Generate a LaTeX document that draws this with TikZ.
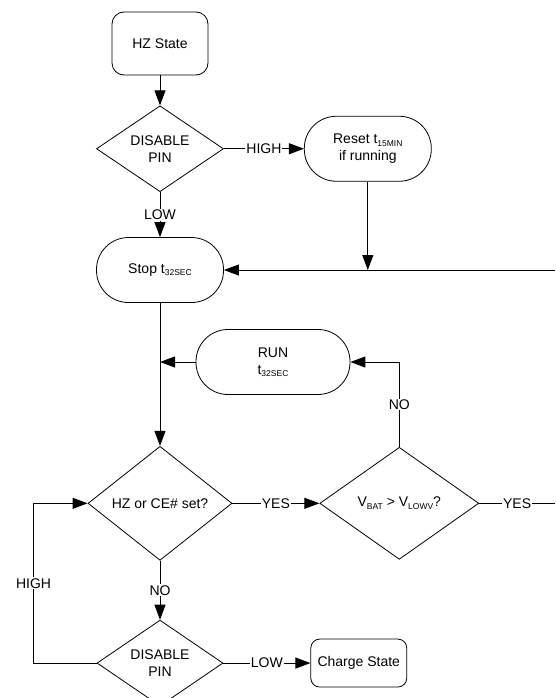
\documentclass[tikz,border=0pt]{standalone}
\usepackage{fontspec}
\setmainfont{Liberation Sans}
\usetikzlibrary{shapes.geometric, arrows.meta, positioning, calc}
\newcommand{\subtxt}[1]{\raisebox{-2.5pt}{\fontsize{8.5}{9}\selectfont #1}}

\begin{document}
\begin{tikzpicture}[x=1pt, y=-1pt,
  txt/.style={font=\fontsize{14}{17}\selectfont, align=center},
  term/.style={txt, draw, line width=0.8pt, rounded corners=32pt, minimum width=127pt, minimum height=65pt, inner sep=2pt},
  state/.style={txt, draw, line width=0.8pt, rounded corners=12pt, minimum width=96pt, minimum height=63pt},
  dec/.style={txt, draw, line width=0.8pt, diamond, inner sep=0pt},
  lbl/.style={txt, fill=white, inner sep=1pt},
  arr/.style={-{Triangle[length=15pt, width=11pt]}, line width=0.9pt}]
\fill[white] (0,0) rectangle (555,698);
\useasboundingbox (0,0) rectangle (555,698);
\path (555,0) coordinate (rim);
\node[state] (hz) at (160,43.5) {HZ State};
\node[dec, minimum width=127pt, minimum height=83pt, below=30pt of hz] (dis1) {DISABLE\\PIN};
\node[term, right=80pt of dis1] (reset) {Reset t\subtxt{15MIN}\\if running};
\node[term, below=45pt of dis1] (stop) {Stop t\subtxt{32SEC}};
\node[dec, minimum width=144pt, minimum height=114pt, below=143pt of stop] (hzce) {HZ or CE\# set?};
\node[dec, minimum width=159pt, minimum height=112pt, right=87pt of hzce] (vbat) {V\subtxt{BAT} > V\subtxt{LOWV}?};
\node[term, minimum width=154pt] (run) at (273,362) {RUN\\t\subtxt{32SEC}};
\node[dec, minimum width=126pt, minimum height=82pt, below=59pt of hzce] (dis2) {DISABLE\\PIN};
\node[state, minimum height=48pt, rounded corners=9pt, right=87pt of dis2] (chg) {Charge State};
\draw[arr] (hz) -- (dis1);
\draw[arr] (dis1) -- node[lbl]{HIGH} (reset);
\draw[arr] (dis1) -- node[lbl]{LOW} (stop);
\draw[arr] (reset) -- (reset.south |- stop.east);
\draw[arr] (stop.east -| rim) -- (stop);
\draw[arr] (stop) -- (hzce);
\draw[arr] (run) -- (run.west -| stop.south);
\draw[arr] (hzce) -- node[lbl]{YES} (vbat);
\draw[arr] (vbat.north) |- node[lbl, pos=0.25]{NO} (run.east);
\draw[line width=0.9pt] (vbat.east) -- node[lbl]{YES} (vbat.east -| rim);
\draw[arr] (hzce) -- node[lbl]{NO} (dis2);
\draw[arr] (dis2) -- node[lbl]{LOW} (chg);
\draw[arr] (dis2.west) -| node[lbl, pos=0.75]{HIGH} ($(hzce.west)+(-54,0)$) -- (hzce.west);
\end{tikzpicture}
\end{document}
